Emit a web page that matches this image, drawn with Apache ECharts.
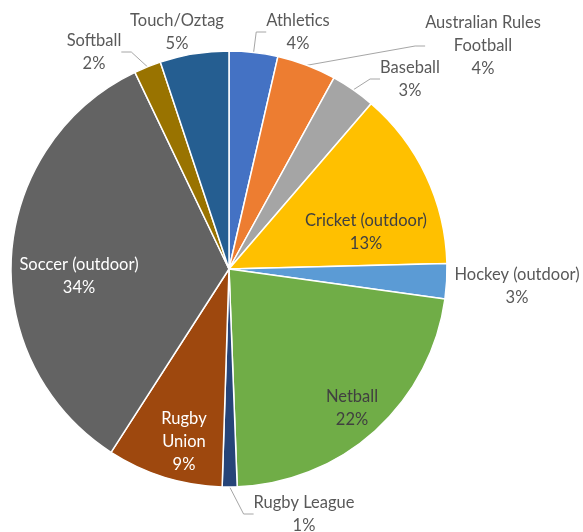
<!DOCTYPE html>
<html>
<head>
<meta charset="utf-8">
<title>Sport participation</title>
<script src="https://cdn.jsdelivr.net/npm/echarts@6/dist/echarts.min.js"></script>
<style>
  html, body { margin: 0; padding: 0; background: #ffffff; }
  #chart { width: 583px; height: 532px; }
</style>
</head>
<body>
<div id="chart"></div>
<script>
// Share of participants by sport (percent)
const sports = [
  'Athletics', 'Australian Rules\nFootball', 'Baseball', 'Cricket (outdoor)',
  'Hockey (outdoor)', 'Netball', 'Rugby League', 'Rugby\nUnion',
  'Soccer (outdoor)', 'Softball', 'Touch/Oztag'
];
const shares = [3.6, 4.4, 3.3, 13.3, 2.6, 22.2, 1.1, 8.6, 33.8, 2.0, 5.1];

const sliceColors = [
  '#4472C4', '#ED7D31', '#A5A5A5', '#FFC000', '#5B9BD5', '#70AD47',
  '#264478', '#9E480E', '#636363', '#997300', '#255E91'
];

// Label placement (centre of each text block) and styling per slice
const labelSpots = [
  [298, 32], [483, 46], [410, 79], [366, 232], [517, 286], [352, 408],
  [304, 514], [184, 442], [79, 276], [94, 52], [177, 32]
];
const labelColors = [
  '#595959', '#595959', '#595959', '#404040', '#595959', '#404040',
  '#595959', '#ffffff', '#ffffff', '#595959', '#595959'
];
const withLeader = [true, true, true, false, false, false, true, false, false, true, false];

const data = sports.map((name, i) => ({
  name: name,
  value: shares[i],
  itemStyle: { color: sliceColors[i] },
  label: { color: labelColors[i] },
  labelLine: { show: withLeader[i] }
}));

const chart = echarts.init(document.getElementById('chart'), null, { renderer: 'canvas' });
chart.setOption({
  backgroundColor: '#ffffff',
  animation: false,
  series: [{
    type: 'pie',
    center: [229, 269],
    radius: 218,
    startAngle: 90,
    clockwise: true,
    avoidLabelOverlap: false,
    itemStyle: { borderColor: '#ffffff', borderWidth: 1.5 },
    label: {
      show: true,
      position: 'outside',
      fontFamily: 'Lato',
      fontSize: 16.5,
      lineHeight: 23,
      align: 'center',
      formatter: p => p.name + '\n' + Math.round(p.percent) + '%'
    },
    labelLine: {
      show: true,
      length: 10,
      length2: 10,
      lineStyle: { color: '#A6A6A6', width: 1 }
    },
    labelLayout: function (params) {
      const spot = labelSpots[params.dataIndex];
      return { x: spot[0], y: spot[1], align: 'center', verticalAlign: 'middle' };
    },
    emphasis: { disabled: true },
    data: data
  }]
});
</script>
</body>
</html>
